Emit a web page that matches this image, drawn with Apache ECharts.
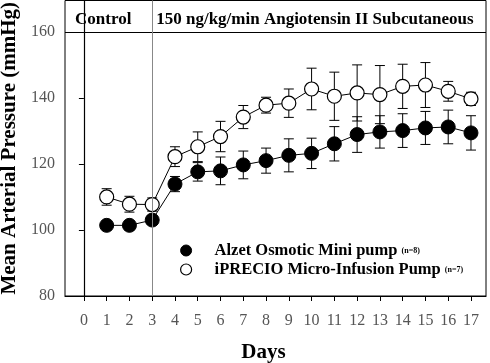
<!DOCTYPE html>
<html>
<head>
<meta charset="utf-8">
<script src="https://cdn.jsdelivr.net/npm/echarts@6/dist/echarts.min.js"></script>
<style>
  html, body { margin: 0; padding: 0; background: #fff; }
  #chart { width: 490px; height: 363px; }
</style>
</head>
<body>
<div id="chart"></div>
<script>
const days = [1, 2, 3, 4, 5, 6, 7, 8, 9, 10, 11, 12, 13, 14, 15, 16, 17];
const xTicks = [0, 1, 2, 3, 4, 5, 6, 7, 8, 9, 10, 11, 12, 13, 14, 15, 16, 17];
const yTicks = [80, 100, 120, 140, 160];

const alzetMean = [101.4, 101.4, 103.0, 113.9, 117.6, 117.9, 119.7, 121.0, 122.6, 123.2, 126.1, 128.9, 129.7, 130.1, 130.9, 131.2, 129.4];
const alzetErr = [1.3, 1.4, 1.3, 2.3, 2.8, 4.2, 4.2, 3.8, 5.0, 4.6, 5.2, 5.4, 4.9, 5.1, 5.0, 5.1, 5.2];
const iprecioMean = [110.0, 107.8, 107.7, 122.2, 125.2, 128.3, 134.2, 137.8, 138.4, 142.7, 140.5, 141.5, 141.0, 143.5, 143.9, 142.0, 139.7];
const iprecioErr = [2.5, 2.4, 2.0, 3.0, 4.5, 4.6, 3.5, 2.4, 4.3, 6.3, 7.3, 8.5, 8.8, 6.7, 6.8, 3.0, 2.0];

const seriesNames = ["Alzet Osmotic Mini pump", "iPRECIO Micro-Infusion Pump"];
const seriesN = ["(n=8)", "(n=7)"];
const headerLabels = ["Control", "150 ng/kg/min Angiotensin II Subcutaneous"];
const treatmentStart = 3;

const xMin = -0.83, xMax = 17.66, yMin = 80, yMax = 169.5, headerY = 160;
const serif = "'Liberation Serif', 'DejaVu Serif', serif";

const pairs = (x, y) => x.map((v, i) => [v, y[i]]);
const errData = (mean, err) => days.map((d, i) => [d, mean[i] - err[i], mean[i] + err[i]]);

const renderErr = (params, api) => {
  const lo = api.coord([api.value(0), api.value(1)]);
  const hi = api.coord([api.value(0), api.value(2)]);
  const cap = 5;
  const style = { stroke: "#000", lineWidth: 1 };
  return {
    type: "group",
    children: [
      { type: "line", shape: { x1: lo[0], y1: lo[1], x2: hi[0], y2: hi[1] }, style },
      { type: "line", shape: { x1: hi[0] - cap, y1: hi[1], x2: hi[0] + cap, y2: hi[1] }, style },
      { type: "line", shape: { x1: lo[0] - cap, y1: lo[1], x2: lo[0] + cap, y2: lo[1] }, style },
    ],
  };
};

const filledStyle = { color: "#000", borderColor: "#000", borderWidth: 1 };
const openStyle = { color: "#fff", borderColor: "#000", borderWidth: 1.2 };

const chart = echarts.init(document.getElementById("chart"));

chart.setOption({
  animation: false,
  grid: {
    left: 65, right: 4, top: 0.5, bottom: 67,
    outerBoundsMode: "none", containLabel: false,
    show: true, borderColor: "#000", borderWidth: 1, backgroundColor: "transparent",
  },
  legend: {
    left: 175, top: 237, orient: "vertical", itemGap: 2,
    itemWidth: 11, itemHeight: 11, icon: "circle",
    data: [
      { name: seriesNames[0], itemStyle: filledStyle },
      { name: seriesNames[1], itemStyle: openStyle },
    ],
    formatter: (name) => name + " {n|" + seriesN[seriesNames.indexOf(name)] + "}",
    textStyle: {
      fontFamily: serif, fontWeight: "bold", fontSize: 16.5, color: "#000",
      padding: [0, 0, 0, 18],
      rich: { n: { fontFamily: serif, fontWeight: "bold", fontSize: 8, color: "#000" } },
    },
  },
  xAxis: {
    type: "value", min: xMin, max: xMax,
    name: "Days", nameLocation: "middle", nameGap: 46,
    nameTextStyle: { fontFamily: serif, fontWeight: "bold", fontSize: 21, color: "#000", padding: [0, 24, 0, 0] },
    axisLine: { lineStyle: { color: "#000", width: 1.2 } },
    axisTick: { customValues: xTicks, length: 5, lineStyle: { color: "#000" } },
    axisLabel: { customValues: xTicks, fontFamily: serif, fontSize: 16, color: "#555", margin: 17 },
    splitLine: { show: false },
  },
  yAxis: {
    type: "value", min: yMin, max: yMax,
    name: "Mean Arterial Pressure (mmHg)", nameLocation: "middle", nameGap: 36,
    nameTextStyle: { fontFamily: serif, fontWeight: "bold", fontSize: 21, color: "#000" },
    axisLine: { lineStyle: { color: "#000", width: 1.2 } },
    axisTick: { customValues: yTicks, length: 5, lineStyle: { color: "#000" } },
    axisLabel: { customValues: yTicks, fontFamily: serif, fontSize: 16, color: "#555", margin: 10 },
    splitLine: { show: false },
  },
  series: [
    {
      name: "Alzet SEM", type: "custom", renderItem: renderErr,
      data: errData(alzetMean, alzetErr), z: 2, silent: true,
    },
    {
      name: "iPRECIO SEM", type: "custom", renderItem: renderErr,
      data: errData(iprecioMean, iprecioErr), z: 2, silent: true,
    },
    {
      name: seriesNames[0], type: "line", data: pairs(days, alzetMean), z: 4,
      symbol: "circle", symbolSize: 14,
      lineStyle: { color: "#000", width: 1 },
      itemStyle: filledStyle,
      markLine: {
        silent: true, symbol: "none", label: { show: false },
        data: [
          { yAxis: headerY, lineStyle: { color: "#000", width: 1, type: "solid" } },
          { xAxis: treatmentStart, lineStyle: { color: "#888", width: 1, type: "solid" } },
        ],
      },
      markArea: {
        silent: true, itemStyle: { color: "transparent" },
        label: {
          position: "insideLeft", fontFamily: serif, fontWeight: "bold", fontSize: 17, color: "#000",
          offset: [0, 3],
        },
        data: [
          [{ name: headerLabels[0], xAxis: xMin, yAxis: headerY, label: { distance: 10 } }, { xAxis: treatmentStart, yAxis: yMax }],
          [{ name: headerLabels[1], xAxis: treatmentStart, yAxis: headerY, label: { distance: 4 } }, { xAxis: xMax, yAxis: yMax }],
        ],
      },
    },
    {
      name: seriesNames[1], type: "line", data: pairs(days, iprecioMean), z: 4,
      symbol: "circle", symbolSize: 14,
      lineStyle: { color: "#000", width: 1 },
      itemStyle: openStyle,
    },
  ],
});
</script>
</body>
</html>
